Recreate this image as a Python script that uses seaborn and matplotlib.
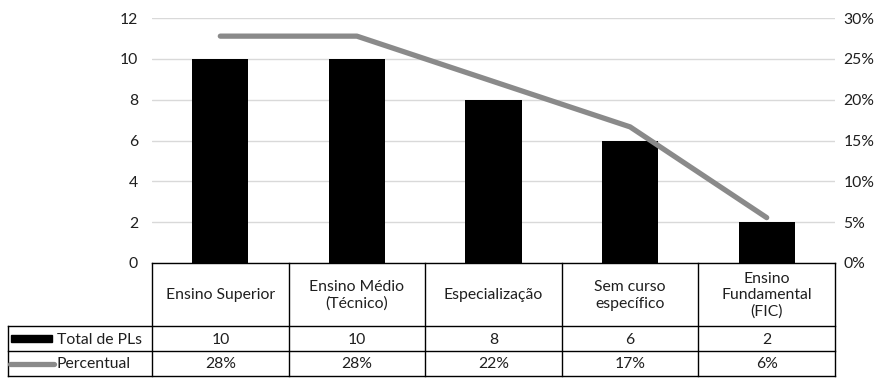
import matplotlib
matplotlib.use("Agg")
import matplotlib.pyplot as plt
from matplotlib.ticker import FuncFormatter
import seaborn as sns

# Data
categories = ["Ensino Superior", "Ensino Médio\n(Técnico)", "Especialização",
              "Sem curso\nespecífico", "Ensino\nFundamental\n(FIC)"]
totals = [10, 10, 8, 6, 2]
percents = [10 / 36, 10 / 36, 8 / 36, 6 / 36, 2 / 36]
series_names = ["Total de PLs", "Percentual"]

sns.set_theme(style="white")
plt.rcParams["font.family"] = ["Lato", "DejaVu Sans"]
TEXT = "#1f1f1f"
FS = 11.3
LINE_C = "#8a8a8a"
GRID_C = "#d9d9d9"

W, H = 880, 378
fig = plt.figure(figsize=(W / 100, H / 100), dpi=100)

# plot area in pixels
x0, x1 = 152, 835
ytop, ybot = 18, 263
ax = fig.add_axes([x0 / W, 1 - ybot / H, (x1 - x0) / W, (ybot - ytop) / H])

sns.barplot(x=list(range(len(totals))), y=totals, color="black", width=0.41,
            saturation=1, linewidth=0, ax=ax, zorder=3)
ax.set_xlim(-0.5, len(totals) - 0.5)
ax.set_ylim(0, 12)
ax.set_yticks(range(0, 13, 2))
ax.set_xticks([])
ax.set_xlabel("")
ax.set_ylabel("")
ax.yaxis.grid(True, color=GRID_C, lw=1.0)
ax.set_axisbelow(True)
for s in ax.spines.values():
    s.set_visible(False)
ax.tick_params(axis="y", length=0, pad=10, labelsize=FS, labelcolor=TEXT)

ax2 = ax.twinx()
sns.lineplot(x=list(range(len(percents))), y=percents, ax=ax2, color=LINE_C,
             lw=3.8, solid_capstyle="round", zorder=4)
ax2.set_ylim(0, 0.30)
ax2.set_yticks([i * 0.05 for i in range(7)])
ax2.yaxis.set_major_formatter(FuncFormatter(lambda v, p: f"{v:.0%}"))
ax2.set_ylabel("")
for s in ax2.spines.values():
    s.set_visible(False)
ax2.tick_params(axis="y", length=0, pad=6, labelsize=FS, labelcolor=TEXT)
ax2.grid(False)

# Data table below the plot
tab = fig.add_axes([0, 0, 1, 1], zorder=5)
tab.set_xlim(0, W)
tab.set_ylim(H, 0)
tab.axis("off")
tab.patch.set_alpha(0)

n = len(categories)
colw = (x1 - x0) / n
xl = 8
r0, r1, r2, r3 = 263, 326, 351, 376
lw = 1.0
kw = dict(color="black", lw=lw, solid_capstyle="projecting")
tab.plot([x0, x1], [r0, r0], **kw)
for y in (r1, r2, r3):
    tab.plot([xl, x1], [y, y], **kw)
tab.plot([xl, xl], [r1, r3], **kw)
for i in range(n + 1):
    xx = x0 + i * colw
    tab.plot([xx, xx], [r0, r3], **kw)

for i, cat in enumerate(categories):
    cx = x0 + (i + 0.5) * colw
    tab.text(cx, (r0 + r1) / 2 + 1, cat, ha="center", va="center",
             fontsize=FS, color=TEXT, linespacing=1.2)
    tab.text(cx, (r1 + r2) / 2 + 1, f"{totals[i]}", ha="center", va="center",
             fontsize=FS, color=TEXT)
    tab.text(cx, (r2 + r3) / 2 + 1, f"{percents[i]:.0%}", ha="center",
             va="center", fontsize=FS, color=TEXT)

# legend keys inside the row headers
tab.add_patch(plt.Rectangle((11, 335), 41, 7, color="black"))
tab.plot([10, 54], [(r2 + r3) / 2, (r2 + r3) / 2], color=LINE_C, lw=3.8,
         solid_capstyle="round")
tab.text(57, (r1 + r2) / 2 + 1, series_names[0], ha="left", va="center",
         fontsize=FS, color=TEXT)
tab.text(57, (r2 + r3) / 2 + 1, series_names[1], ha="left", va="center",
         fontsize=FS, color=TEXT)

fig.savefig("out.png", dpi=100)
